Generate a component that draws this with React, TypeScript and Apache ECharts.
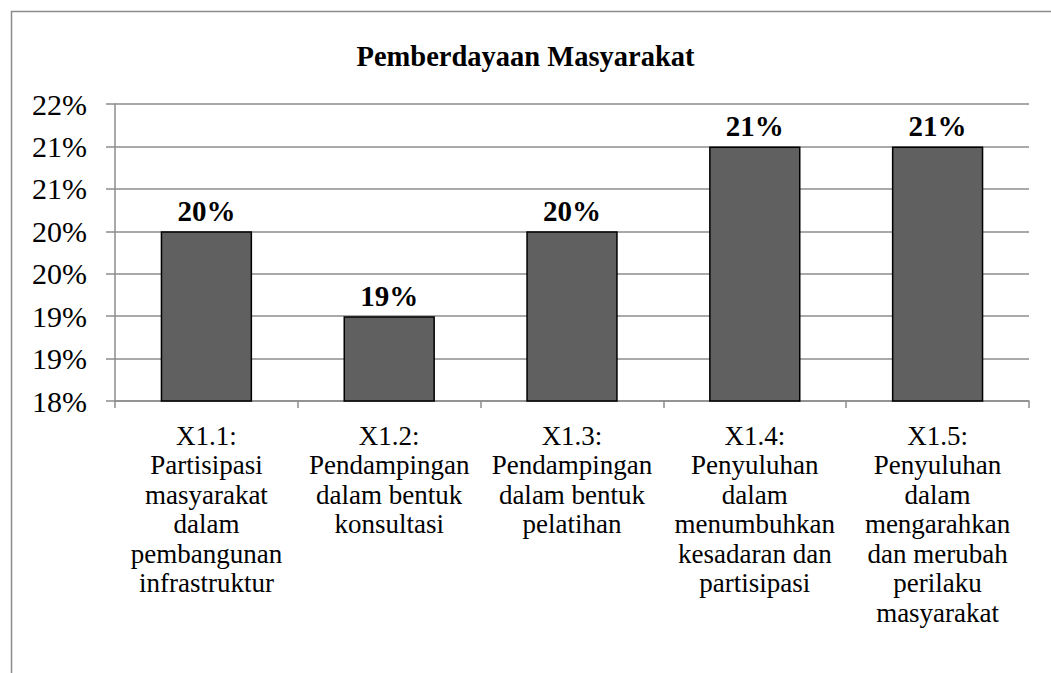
import React, { useEffect, useRef } from "react";
import * as echarts from "echarts";

const title = "Pemberdayaan Masyarakat";
const categories = [
  "X1.1:\nPartisipasi\nmasyarakat\ndalam\npembangunan\ninfrastruktur",
  "X1.2:\nPendampingan\ndalam bentuk\nkonsultasi",
  "X1.3:\nPendampingan\ndalam bentuk\npelatihan",
  "X1.4:\nPenyuluhan\ndalam\nmenumbuhkan\nkesadaran dan\npartisipasi",
  "X1.5:\nPenyuluhan\ndalam\nmengarahkan\ndan merubah\nperilaku\nmasyarakat",
];
const values = [20, 19, 20, 21, 21];
const yMin = 18;
const yMax = 21.5;
const yStep = 0.5;

const FONT = "Liberation Serif";

export default function App() {
  const ref = useRef<HTMLDivElement>(null);
  useEffect(() => {
    if (!ref.current) return;
    const chart = echarts.init(ref.current, null, { renderer: "svg" });
    chart.setOption({
      animation: false,
      backgroundColor: "#ffffff",
      textStyle: { fontFamily: FONT },
      title: {
        text: title,
        left: "center",
        top: 37,
        textStyle: { fontFamily: FONT, fontSize: 28.5, fontWeight: "bold", color: "#000" },
      },
      graphic: [
        {
          type: "rect",
          shape: { x: 11.5, y: 11.5, width: 1200, height: 800 },
          style: { fill: "none", stroke: "#8c8c8c", lineWidth: 1.5 },
          silent: true,
        },
      ],
      grid: { left: 115, right: 22, top: 104, bottom: 272, containLabel: false },
      xAxis: {
        type: "category",
        data: categories,
        axisLine: { lineStyle: { color: "#8c8c8c", width: 1.5 } },
        axisTick: { show: true, length: 7, alignWithLabel: false, lineStyle: { color: "#8c8c8c", width: 1.5 } },
        axisLabel: {
          interval: 0,
          fontFamily: FONT,
          fontSize: 27,
          lineHeight: 29.5,
          color: "#000",
          margin: 20,
          align: "center",
        },
      },
      yAxis: {
        type: "value",
        min: yMin,
        max: yMax,
        interval: yStep,
        axisLine: { show: true, lineStyle: { color: "#8c8c8c", width: 1.5 } },
        axisTick: { show: true, length: 9, lineStyle: { color: "#8c8c8c", width: 1.5 } },
        splitLine: { show: true, lineStyle: { color: "#8c8c8c", width: 1.5 } },
        axisLabel: {
          fontFamily: FONT,
          fontSize: 30,
          color: "#000",
          margin: 28,
          formatter: (v: number) => Math.round(v) + "%",
        },
      },
      series: [
        {
          type: "bar",
          data: values,
          barWidth: "50%",
          itemStyle: { color: "#606060", borderColor: "#000", borderWidth: 1.5 },
          label: {
            show: true,
            position: "top",
            distance: 6,
            fontFamily: FONT,
            fontSize: 29,
            fontWeight: "bold",
            color: "#000",
            formatter: (p: any) => Math.round(p.value) + "%",
          },
        },
      ],
    });
    return () => chart.dispose();
  }, []);
  return (
    <div
      ref={ref}
      style={{ position: "absolute", left: 0, top: 0, width: 1051, height: 673 }}
    />
  );
}
